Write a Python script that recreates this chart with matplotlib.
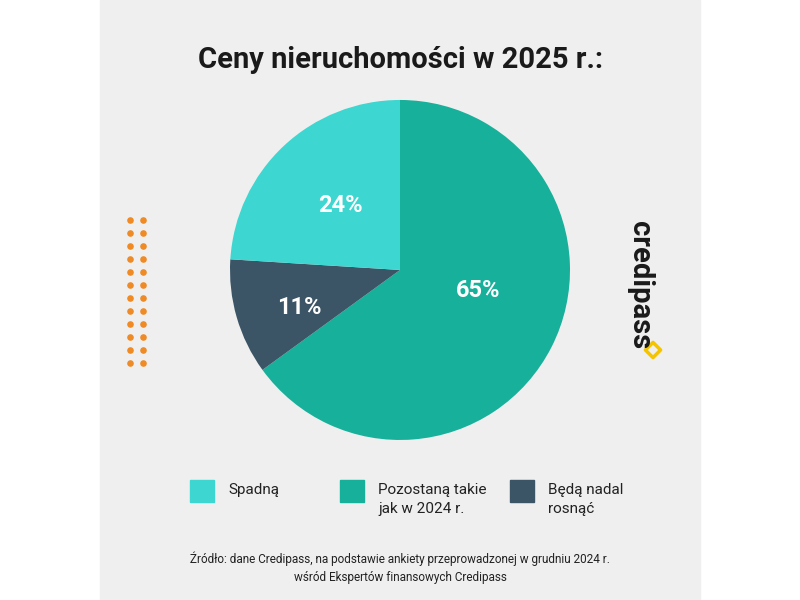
import matplotlib.pyplot as plt
from matplotlib.patches import Rectangle

# ---- DATA ----
labels = ["Pozostaną takie\njak w 2024 r.", "Będą nadal\nrosnąć", "Spadną"]
values = [65, 11, 24]
colors = ["#17b09a", "#3b5566", "#3dd6d0"]
legend_order = [2, 0, 1]

title = "Ceny nieruchomości w 2025 r.:"
source = ("Źródło: dane Credipass, na podstawie ankiety przeprowadzonej w grudniu 2024 r.\n"
          "wśród Ekspertów finansowych Credipass")

plt.rcParams["font.family"] = ["Roboto", "DejaVu Sans"]
fig = plt.figure(figsize=(8, 6), dpi=100)
fig.patch.set_facecolor("white")

# overlay axes in pixel coordinates
bg = fig.add_axes([0, 0, 1, 1])
bg.set_xlim(0, 800)
bg.set_ylim(600, 0)
bg.axis("off")
bg.add_patch(Rectangle((100, 0), 600, 600, color="#efefef", zorder=0))

# orange dots
for cx in (130, 143):
    for cy in range(220, 370, 13):
        bg.scatter(cx, cy, s=14, color="#f08a24", zorder=1)

bg.text(400, 60, title, ha="center", va="center", fontsize=21,
        fontweight="bold", color="#1a1a1a")

# logo
bg.text(640, 285, "credipass", rotation=-90, ha="center", va="center",
        fontsize=21, fontweight="bold", color="#1a1a1a")
bg.scatter(653, 350, marker="D", s=60, facecolor="none",
           edgecolor="#f5c400", linewidths=2.5)

# pie
ax = fig.add_axes([0.5 - 0.2125, 0.55 - 0.2833, 0.425, 0.5667])
wedges, texts = ax.pie(values, colors=colors, startangle=90,
                       counterclock=False)
ax.set_xlim(-1, 1)
ax.set_ylim(-1, 1)
label_pos = [(0.46, -0.12), (-0.59, -0.22), (-0.35, 0.38)]
for v, (x, y) in zip(values, label_pos):
    ax.text(x, y, f"{v}%", ha="center", va="center", fontsize=17,
            fontweight="bold", color="white")
ax.set_aspect("equal")

# legend
leg_x = [190, 340, 510]
for x, i in zip(leg_x, legend_order):
    bg.add_patch(Rectangle((x, 480), 24, 22, color=colors[i]))
    bg.text(x + 38, 483, labels[i], ha="left", va="top", fontsize=11,
            color="#222222", linespacing=1.5)

bg.text(400, 568, source, ha="center", va="center", fontsize=8.5,
        color="#222222", linespacing=1.5)

fig.savefig("out.png", dpi=100)
